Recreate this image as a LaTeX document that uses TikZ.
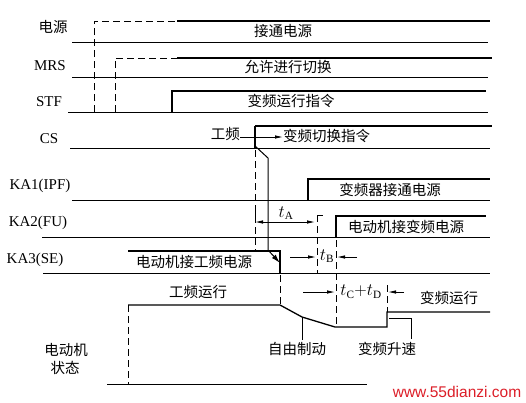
\documentclass[tikz,border=0pt]{standalone}
\usepackage{fontspec}
\setmainfont{Liberation Serif}
\newfontfamily\cjk{Noto Sans CJK SC}
\newfontfamily\wmfont{Liberation Sans}
\usetikzlibrary{arrows.meta}
\tikzset{base/.style={black, line width=1pt},
  wave/.style={black, line width=1.3pt},
  guide/.style={black, line width=0.9pt, dash pattern=on 7pt off 4pt},
  tarrow/.style={black, line width=0.8pt, -{Latex[length=8pt,width=3.5pt]}},
  lbl/.style={inner sep=0pt, font=\fontsize{15}{15}\selectfont},
  tlbl/.style={inner sep=0pt, font=\fontsize{16}{16}\selectfont},
  cn/.style={inner sep=0pt, font=\cjk\fontsize{14.5}{15}\selectfont}}

\begin{document}
\begin{tikzpicture}[x=1pt,y=-1pt]
  \useasboundingbox (0,0) rectangle (526,402);
  \node[cn]  (ydy)  at (53,27)  {电源};
  \node[lbl] (mrs)  at (50,66)  {MRS};
  \node[lbl] (stf)  at (49,102) {STF};
  \node[lbl] (cs)   at (49,139) {CS};
  \node[lbl] (ka1)  at (40,186) {KA1(IPF)};
  \node[lbl] (ka2)  at (38,223) {KA2(FU)};
  \node[lbl] (ka3)  at (35,260) {KA3(SE)};
  \node[cn]  (mot1) at (66,350) {电动机};
  \node[cn]  (mot2) at (65,368) {状态};
  \draw[base] (72,42) -- (488,42);
  \draw[base] (72,77) -- (488,77);
  \draw[base] (68,112) -- (488,112);
  \draw[base] (70,148) -- (490,148);
  \draw[base] (72,200) -- (490,200);
  \draw[base] (42,237) -- (490,237);
  \draw[base] (43,273) -- (490,273);
  \draw[base] (107,384) -- (367,384);
  \draw[guide] (94,112) -- (94,21) -- (177,21);
  \draw[wave] (177,21) -- (490,21);
  \node[cn] (t-ydy) at (283,31) {接通电源};
  \draw[guide] (115,112) -- (115,58) -- (177,58);
  \draw[wave] (177,58) -- (492,58);
  \node[cn] (t-mrs) at (288,67) {允许进行切换};
  \draw[wave] (172,112) -- (172,91) -- (486,91);
  \node[cn] (t-stf) at (291,101) {变频运行指令};
  \draw[wave] (255,148) -- (255,126);
  \draw[black, line width=2.2pt] (255,126) -- (492,126);
  \node[cn, anchor=east] (gp) at (240,134) {工频};
  \draw[base] (gp.east |- 0,137) -- (255,137);
  \node[cn, anchor=west] (t-cs) at (283,136) {变频切换指令};
  \draw[tarrow] (255,137) -- (t-cs.west |- 0,137);
  \draw[guide] (255,150) -- (255,252);
  \draw[base, -{Latex[length=9pt,width=5pt]}] (255,146) -- (268,158) -- (268,250) -- (280,263);
  \draw[wave] (308,200) -- (308,179) -- (490,179);
  \node[cn] (t-ka1) at (390,190) {变频器接通电源};
  \draw[wave] (336,237) -- (336,216) -- (486,216);
  \node[cn] (t-ka2) at (406,227) {电动机接变频电源};
  \draw[base] (255,212) -- (255,222);
  \draw[black, line width=0.8pt, {Latex[length=8pt,width=3.5pt]}-{Latex[length=8pt,width=3.5pt]}] (255,222) -- (315,222);
  \node[tlbl] (ta) at (286,213) {$t_{\mathrm{A}}$};
  \draw[base] (317,222) -- (317,215) -- (323,215);
  \draw[guide] (317,226) -- (317,273);
  \draw[tarrow] (290,257) -- (316,257);
  \node[tlbl] (tb) at (327,256) {$t_{\mathrm{B}}$};
  \draw[tarrow] (357,257) -- (337,257);
  \draw[guide] (336,240) -- (336,326);
  \draw[black, line width=1.8pt] (128,251) -- (280,251) -- (280,273);
  \node[cn] (t-ka3) at (194,262) {电动机接工频电源};
  \draw[guide] (280,275) -- (280,305);
  \node[cn] (t-gp) at (198,292) {工频运行};
  \draw[guide] (128,305) -- (128,384);
  \draw[wave] (128,305) -- (280,305) -- (302,317) -- (335,327) -- (387,327) -- (387,312) -- (490,312);
  \draw[base] (302,317) -- (302,340);
  \node[cn] (t-free) at (297,349) {自由制动};
  \draw[base] (389,318) -- (411,318) -- (411,339);
  \node[cn] (t-up) at (387,349) {变频升速};
  \draw[guide] (387,285) -- (387,312);
  \draw[tarrow] (303,292) -- (335,292);
  \node[tlbl] (tcd) at (361,292) {$t_{\mathrm{C}}{+}t_{\mathrm{D}}$};
  \draw[tarrow] (404,292) -- (388,292);
  \node[cn] (t-run) at (449,298) {变频运行};
  \node[inner sep=0pt, text={rgb,255:red,220;green,30;blue,40}, font=\wmfont\fontsize{15.5}{16}\selectfont] (wm) at (457,392) {www.55dianzi.com};
\end{tikzpicture}
\end{document}
